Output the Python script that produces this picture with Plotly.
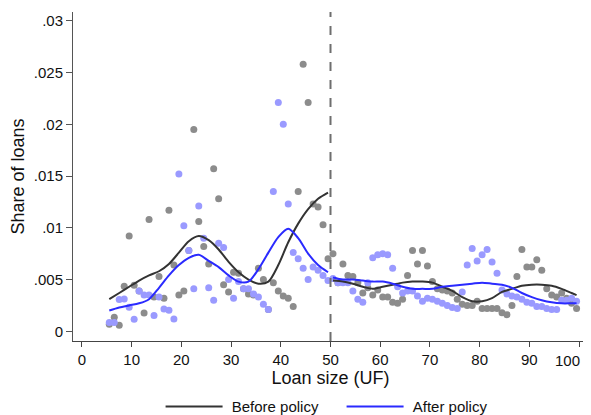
import plotly.graph_objects as go

# binned shares of loans by loan size (UF), one point per 1-UF bin
bins = [b + 0.5 for b in range(5, 100)]

share_before = [
    .00068, .00135, .00058, .00435, .0092, .00445, .0039, .00177, .0108, .0033,
    .0053, .0032, .0117, .0064, .0035, .0039, .0078, .0195, .0106, .0082,
    .0065, .0157, .0128, .0045, .0038, .0057, .0056, .0041, .0036, .0035,
    .0061, .0050, .0021, .0047, .0039, .0034, .0032, .0024, .0135, .0258,
    .0221, .0123, .0120, .0103, .0070, .0075, .0047, .0065, .0054, .0053,
    .0047, .0037, .0042, .0035, .0040, .0033, .0033, .0028, .0027, .0031,
    .0054, .0078, .0065, .0078, .0063, .0048, .0041, .0040, .0039, .0037,
    .0031, .0026, .0025, .0025, .0029, .0022, .0022, .0022, .0022, .0018,
    .0016, .0025, .0053, .0079, .0062, .0062, .0069, .0059, .0041, .0035,
    .0033, .0037, .0032, .0027, .0022,
]

share_after = [
    .00084, .00084, .00307, .00312, .00232, .00116, .0039, .00351, .00351, .00152,
    .00332, .00216, .00203, .00119, .0152, .0102, .0078, .0041, .0121, .0090,
    .0042, .0030, .0085, .0081, .0050, .0032, .0048, .0041, .0041, .0036,
    .0033, .0026, .0021, .0135, .0221, .0200, .0123, .0076, .0070, .0061,
    .0050, .0062, .0059, .0054, .0049, .0051, .0047, .0047, .0047, .0039,
    .0031, .0028, .0047, .0071, .0074, .0075, .0074, .0061, .0043, .0037,
    .0039, .0039, .0034, .0029, .0032, .0031, .0029, .0027, .0025, .0023,
    .0022, .0038, .0064, .0080, .0068, .0074, .0079, .0067, .0056, .0040,
    .0036, .0034, .0033, .0031, .0028, .0027, .0024, .0024, .0022, .0021,
    .0021, .0030, .0030, .0032, .0029,
]

# smoothed fits, estimated separately below and above the 50 UF cutoff
fit_x_low = [5.5, 7.5, 9.5, 11.5, 13.5, 15.5, 17.5, 19.5, 21.5, 23.5, 25.5, 27.5,
             29.5, 31.5, 33.5, 35.5, 37.5, 39.5, 41.5, 43.5, 45.5, 47.5, 49.5]
fit_before_low = [.0031, .0037, .0043, .0049, .0054, .0058, .0065, .0076, .0087, .0092,
                  .0088, .0079, .0067, .0057, .0050, .0046, .0048, .0064, .0086, .0104,
                  .0118, .0128, .0134]
fit_after_low = [.0020, .0023, .0025, .0027, .0031, .0042, .0054, .0064, .0071, .0074,
                 .0068, .0062, .0054, .0048, .0048, .0060, .0076, .0091, .0099, .0090,
                 .0075, .0064, .0057]

fit_x_high = [50.5, 52.5, 54.5, 56.5, 58.5, 60.5, 62.5, 64.5, 66.5, 68.5, 70.5, 72.5,
              74.5, 76.5, 78.5, 80.5, 82.5, 84.5, 86.5, 88.5, 90.5, 92.5, 94.5, 96.5,
              98.5, 99.5]
fit_before_high = [.0049, .0048, .0046, .0043, .0041, .0043, .0045, .0047, .0048, .0048,
                   .0047, .0043, .0039, .0033, .0029, .0029, .0032, .0038, .0041, .0044,
                   .0045, .0045, .0044, .0041, .0037, .0035]
fit_after_high = [.0052, .0050, .0050, .0049, .0048, .0048, .0046, .0043, .0041, .0041,
                  .0041, .0043, .0044, .0045, .0046, .0047, .0046, .0045, .0042, .0037,
                  .0033, .0030, .0028, .0027, .0027, .0027]

cutoff = 50
x_ticks = list(range(0, 101, 10))
# the last label ("100") is drawn as an annotation so it stays inside the window
x_tick_text = [str(t) for t in x_ticks[:-1]] + [""]
y_ticks = [0, .005, .01, .015, .02, .025, .03]
y_tick_text = ["0", ".005", ".01", ".015", ".02", ".025", ".03"]

gray_dot = "#8c8c8c"
blue_dot = "#9a9aff"
black_line = "#333333"
blue_line = "#2a2aff"

fig = go.Figure()

fig.add_trace(go.Scatter(x=bins, y=share_before, mode="markers",
                         marker=dict(color=gray_dot, size=7), showlegend=False))
fig.add_trace(go.Scatter(x=bins, y=share_after, mode="markers",
                         marker=dict(color=blue_dot, size=7), showlegend=False))

fig.add_trace(go.Scatter(x=fit_x_low, y=fit_before_low, mode="lines", name="\u00a0Before policy",
                         line=dict(color=black_line, width=2, shape="spline", smoothing=0.8),
                         legendgroup="before"))
fig.add_trace(go.Scatter(x=fit_x_high, y=fit_before_high, mode="lines", name="Before policy",
                         line=dict(color=black_line, width=2, shape="spline", smoothing=0.8),
                         legendgroup="before", showlegend=False))
fig.add_trace(go.Scatter(x=fit_x_low, y=fit_after_low, mode="lines", name="\u00a0After policy",
                         line=dict(color=blue_line, width=2, shape="spline", smoothing=0.8),
                         legendgroup="after"))
fig.add_trace(go.Scatter(x=fit_x_high, y=fit_after_high, mode="lines", name="After policy",
                         line=dict(color=blue_line, width=2, shape="spline", smoothing=0.8),
                         legendgroup="after", showlegend=False))

fig.add_shape(type="line", x0=cutoff, x1=cutoff, y0=0, y1=1, xref="x", yref="paper",
              line=dict(color="#6e6e6e", width=2, dash="dash"))

fig.add_annotation(x=x_ticks[-1], y=0, xref="x", yref="paper", text=str(x_ticks[-1]),
                   showarrow=False, xanchor="right", yanchor="top", xshift=3, yshift=-9,
                   font=dict(size=15))

# page body adds an 8px offset to the figure
fig.update_layout(
    width=591, height=407,
    margin=dict(l=65, r=11, t=4, b=74, autoexpand=False),
    paper_bgcolor="white", plot_bgcolor="white",
    font=dict(family="Liberation Sans, Arial", size=15, color="#111111"),
    legend=dict(orientation="h", x=0.5215, xanchor="center", y=-0.2, yanchor="middle",
                itemwidth=57, entrywidth=109, font=dict(size=15)),
)
fig.update_xaxes(
    range=[-1.8, 101.8], tickvals=x_ticks, ticktext=x_tick_text, automargin=False,
    showgrid=False, zeroline=False, showline=True, linecolor="#444444", linewidth=1,
    ticks="outside", ticklen=5, tickcolor="#444444",
    title=dict(text="Loan size (UF)", standoff=0),
)
fig.update_yaxes(
    range=[-0.00094, 0.03085], tickvals=y_ticks, ticktext=y_tick_text, automargin=False,
    showgrid=False, zeroline=False, showline=True, linecolor="#555555", linewidth=1,
    ticks="outside", ticklen=6, tickcolor="#555555",
    title=dict(text="Share of loans", standoff=4),
)

fig.write_html("out.html")
